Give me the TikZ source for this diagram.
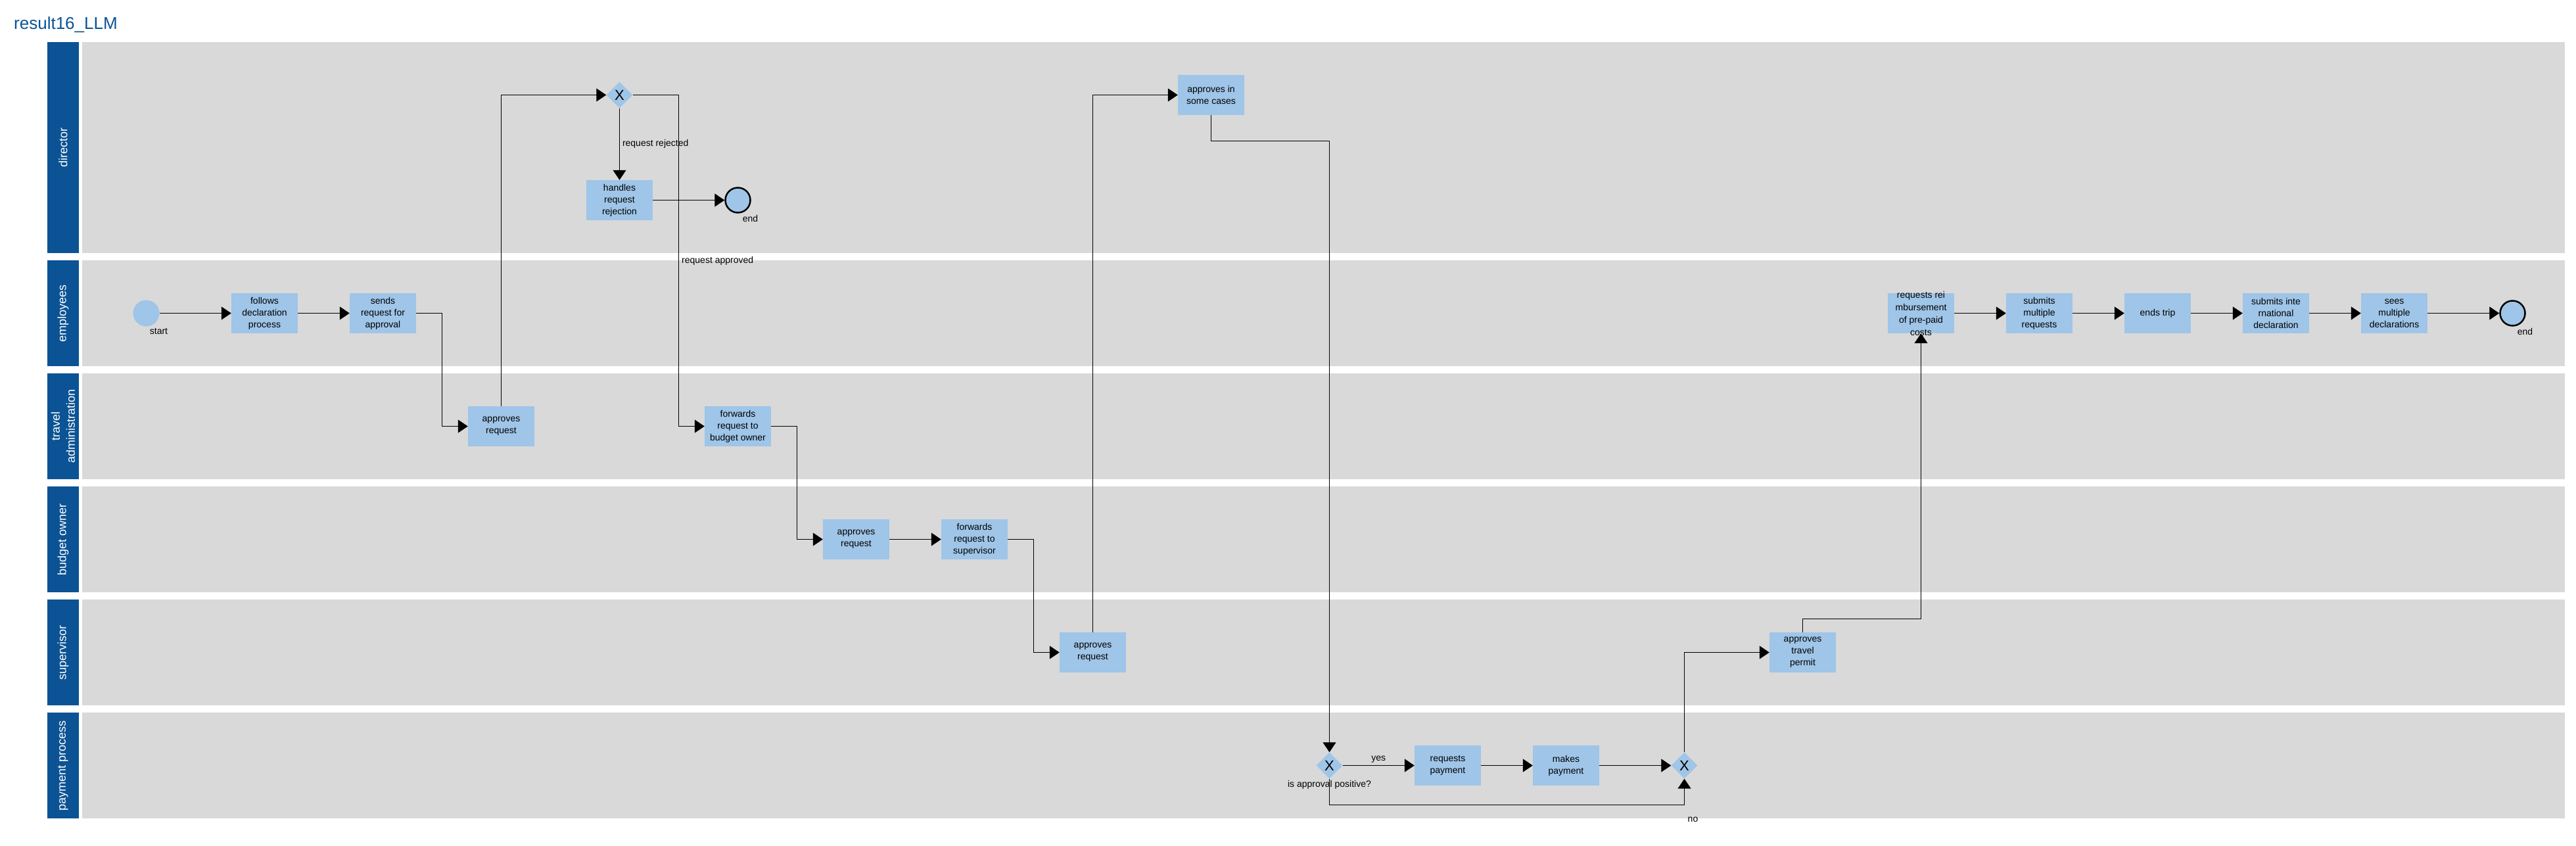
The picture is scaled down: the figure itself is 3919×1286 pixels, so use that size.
\documentclass[tikz,border=0pt]{standalone}
\usepackage{fontspec}
\setmainfont{Liberation Sans}
\usetikzlibrary{arrows.meta,shapes.geometric}

\definecolor{laneblue}{HTML}{0B5394}
\definecolor{lanegray}{HTML}{D9D9D9}
\definecolor{taskblue}{HTML}{9FC5E8}

\begin{document}
\begin{tikzpicture}[
        %We count in pixels of the sheet and define some styles
        x=1pt, y=-1pt,
        lane/.style={fill=lanegray},
        lane head/.style={fill=laneblue},
        lane name/.style={color=white, rotate=90, align=center, inner sep=0pt,
            font=\fontsize{18}{23}\selectfont},
        task/.style={fill=taskblue, minimum width=101pt, minimum height=61pt,
            inner sep=0pt, align=center, font=\fontsize{14}{18}\selectfont},
        task text/.style={align=center, inner sep=0pt, font=\fontsize{14}{19}\selectfont},
        gateway/.style={diamond, shape aspect=1, fill=taskblue, minimum size=40pt,
            inner sep=0pt, font=\fontsize{22}{22}\selectfont},
        start event/.style={circle, fill=taskblue, minimum size=40pt, inner sep=0pt},
        end event/.style={circle, fill=taskblue, draw=black, line width=2.5pt,
            minimum size=38pt, inner sep=0pt},
        flow/.style={line width=1pt, -{Triangle[length=15pt, width=20pt]}},
        label text/.style={font=\fontsize{14}{17}\selectfont, inner sep=0pt},
    ]
    \useasboundingbox (0,0) rectangle (3919,1286);

    % title of the sheet
    \node[anchor=base west, inner sep=0pt, color=laneblue,
        font=\fontsize{26}{26}\selectfont] (title) at (21,44) {result16\_LLM};

    % lanes with their heads
    \foreach \top/\bot/\name [count=\i] in {64/385/director, 396/557/employees,
        568/729/{travel\\administration}, 740/901/budget owner,
        912/1073/supervisor, 1084/1245/payment process}{
        \fill[lane] (125,\top) rectangle (3902,\bot);
        \fill[lane head] (72,\top) rectangle (120,\bot);
        \node[lane name] (lane\i) at (96,{(\top+\bot)/2}) {\name};
    }

    % employees
    \node[start event] (start) at (222.5,476.5) {};
    \node[task] (follows) at (402.5,476.5) {follows\\declaration\\process};
    \node[task] (sends) at (582.5,476.5) {sends\\request for\\approval};
    % travel administration and director
    \node[task] (travel approves) at (762.5,648.5) {approves\\request};
    \node[gateway] (decision) at (942.5,144.5) {X};
    \node[task] (rejection) at (942.5,304.5) {handles\\request\\rejection};
    \node[end event] (rejected end) at (1122.5,304.5) {};
    \node[task] (to budget) at (1122.5,648.5) {forwards\\request to\\budget owner};
    % budget owner and supervisor
    \node[task] (budget approves) at (1302.5,820.5) {approves\\request};
    \node[task] (to supervisor) at (1482.5,820.5) {forwards\\request to\\supervisor};
    \node[task] (supervisor approves) at (1662.5,992.5) {approves\\request};
    \node[task] (some cases) at (1842.5,144.5) {approves in\\some cases};
    % payment process
    \node[gateway] (positive) at (2022.5,1164.5) {X};
    \node[task] (requests payment) at (2202.5,1164.5) {requests\\payment};
    \node[task] (makes payment) at (2382.5,1164.5) {makes\\payment};
    \node[gateway] (merge) at (2562.5,1164.5) {X};
    \node[task] (permit) at (2742.5,992.5) {approves\\travel\\permit};
    % back to the employees
    \node[task] (reimbursement) at (2922.5,476.5) {};
    \node[task text] (reimbursement text) at (reimbursement) {requests rei\\mbursement\\of pre-paid\\costs};
    \node[task] (submits requests) at (3102.5,476.5) {submits\\multiple\\requests};
    \node[task] (ends trip) at (3282.5,476.5) {ends trip};
    \node[task] (international) at (3462.5,476.5) {submits inte\\rnational\\declaration};
    \node[task] (sees declarations) at (3642.5,476.5) {sees\\multiple\\declarations};
    \node[end event] (final end) at (3822.5,476.5) {};

    % event and gateway labels
    \node[label text] (start label) at ([shift={(19,27.5)}]start.center) {start};
    \node[label text] (rejected end label) at ([shift={(19,27.5)}]rejected end.center) {end};
    \node[label text] (final end label) at ([shift={(19,27.5)}]final end.center) {end};
    \node[label text, anchor=north] (positive label) at ([yshift=-2pt]positive.south) {is approval positive?};

    % sequence flows
    \draw[flow] (start) -- (follows);
    \draw[flow] (follows) -- (sends);
    \draw[flow] (sends.east) -- ++(39.5,0) |- (travel approves.west);
    \draw[flow] (travel approves.north) |- (decision.west);
    \draw[flow] (decision.south) -- node[label text, anchor=west, xshift=4pt] (rejected label) {request rejected} (rejection.north);
    \draw[flow] (rejection) -- (rejected end);
    \draw[flow] (decision.east) -- ++(70,0) |- node[label text, anchor=west, pos=0.25, xshift=4pt] (approved label) {request approved} (to budget.west);
    \draw[flow] (to budget.east) -- ++(39.5,0) |- (budget approves.west);
    \draw[flow] (budget approves) -- (to supervisor);
    \draw[flow] (to supervisor.east) -- ++(39.5,0) |- (supervisor approves.west);
    \draw[flow] (supervisor approves.north) |- (some cases.west);
    \draw[flow] (some cases.south) -- ++(0,39.5) -| (positive.north);
    \draw[flow] (positive) -- node[label text, above=4pt] (yes label) {yes} (requests payment);
    \draw[flow] (requests payment) -- (makes payment);
    \draw[flow] (makes payment) -- (merge);
    \draw[flow] (positive.south) -- ++(0,40) -| node[label text, pos=0.5, shift={(13,22.5)}] (no label) {no} (merge.south);
    \draw[flow] (merge.north) |- (permit.west);
    \draw[flow] (permit.north) -- ++(0,-20) -| (reimbursement.south);
    \draw[flow] (reimbursement) -- (submits requests);
    \draw[flow] (submits requests) -- (ends trip);
    \draw[flow] (ends trip) -- (international);
    \draw[flow] (international) -- (sees declarations);
    \draw[flow] (sees declarations) -- (final end);
\end{tikzpicture}
\end{document}
